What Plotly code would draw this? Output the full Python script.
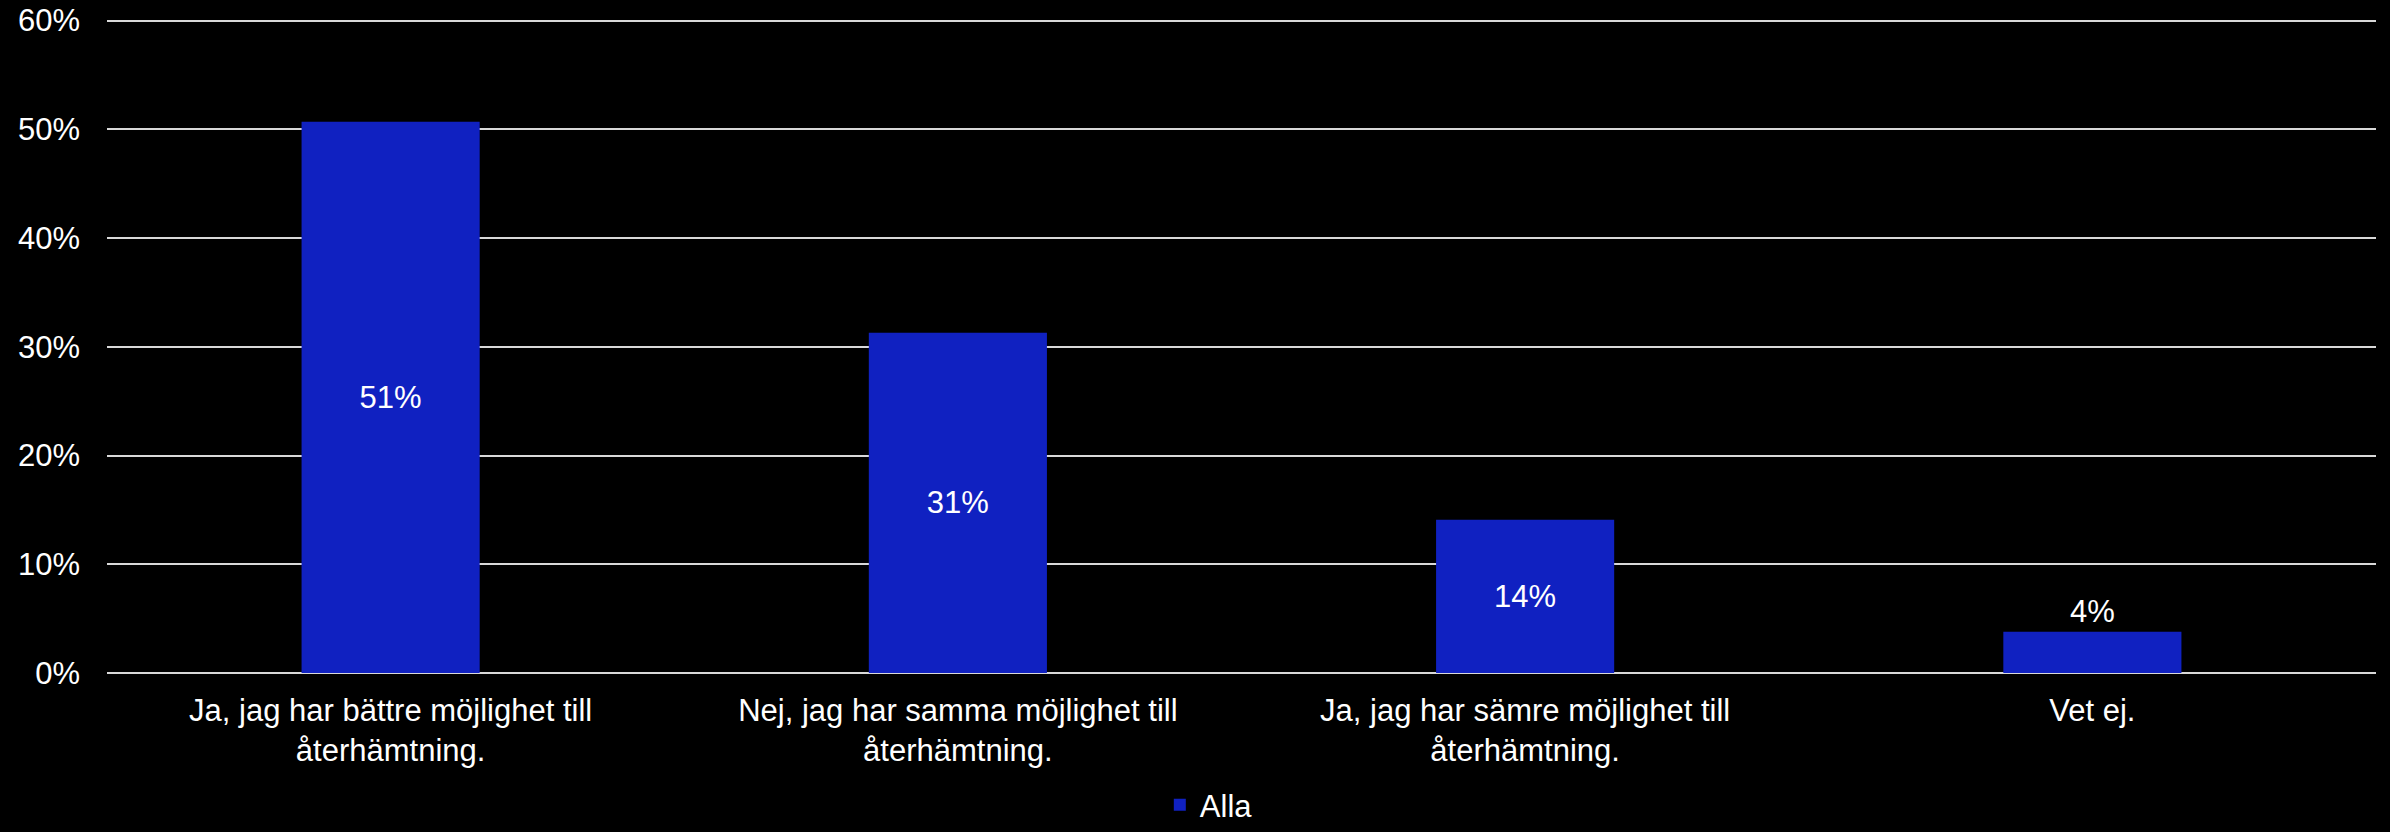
import plotly.graph_objects as go

categories = [
    "Ja, jag har bättre möjlighet till<br>återhämtning.",
    "Nej, jag har samma möjlighet till<br>återhämtning.",
    "Ja, jag har sämre möjlighet till<br>återhämtning.",
    "Vet ej.",
]
values = [50.7, 31.3, 14.1, 3.8]
series_name = "Alla"
text_positions = ["inside", "inside", "inside", "outside"]
y_ticks = [0, 10, 20, 30, 40, 50, 60]
y_tick_labels = ["0%", "10%", "20%", "30%", "40%", "50%", "60%"]

FONT = "Liberation Sans, Arial, sans-serif"

fig = go.Figure()
fig.add_trace(go.Bar(
    x=categories,
    y=values,
    name=series_name,
    marker=dict(color="#1021C1", line=dict(width=0)),
    texttemplate="%{y:.0f}%",
    textposition=text_positions,
    insidetextanchor="middle",
    textfont=dict(color="white", size=31, family=FONT),
    cliponaxis=False,
    showlegend=True,
))

fig.update_layout(
    width=2390, height=832,
    paper_bgcolor="black", plot_bgcolor="black",
    font=dict(family=FONT, size=31, color="white"),
    margin=dict(l=107, r=14, t=19, b=158.5, autoexpand=False),
    bargap=0.686,
    showlegend=True,
    legend=dict(orientation="h", x=0.464, xanchor="left",
                yref="container", y=0.0, yanchor="bottom",
                font=dict(size=31, color="white"), bgcolor="rgba(0,0,0,0)"),
    xaxis=dict(showgrid=False, showline=False, ticks="", tickfont=dict(size=31, color="white"),
               zeroline=False, automargin=False, ticklabelstandoff=16),
    yaxis=dict(range=[0, 60.15], tickvals=y_ticks, ticktext=y_tick_labels,
               showgrid=True, gridcolor="#d9d9d9",
               gridwidth=2, zeroline=True, zerolinecolor="#d9d9d9", zerolinewidth=2,
               showline=False, ticks="", ticklabelstandoff=26, automargin=False,
               tickfont=dict(size=31, color="white")),
)

fig.write_html("out.html")
